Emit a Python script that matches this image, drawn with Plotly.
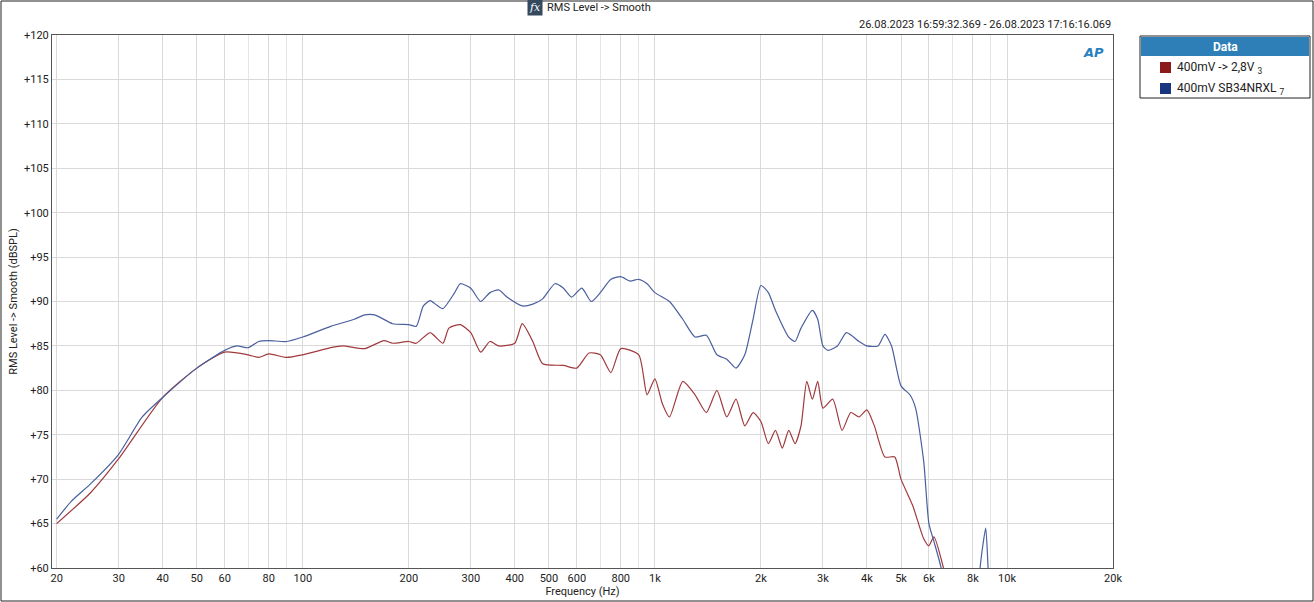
import plotly.graph_objects as go

# frequency response
blue_f = [20, 22, 25, 30, 35, 40, 50, 60, 65, 70, 75, 80, 90, 100, 120, 140, 150, 160, 180, 200, 210, 220,
          230, 240, 250, 270, 280, 300, 320, 340, 360, 380, 420, 450, 480, 520, 550, 580, 620, 660, 700, 750,
          800, 850, 900, 950, 1000, 1100, 1200, 1300, 1400, 1500, 1600, 1700, 1800, 1900, 2000, 2100, 2200,
          2400, 2500, 2600, 2800, 2900, 3000, 3100, 3300, 3500, 3800, 4000, 4300, 4500, 4700, 5000, 5300,
          5500, 5800, 6000, 6200, 6500, 7000, 8000, 8500, 8700, 8900, 9500]
blue_db = [65.5, 67.5, 69.5, 72.8, 77, 79.2, 82.5, 84.5, 85, 84.8, 85.5, 85.6, 85.5, 86, 87.2, 88, 88.5, 88.5,
           87.5, 87.4, 87.2, 89.5, 90.1, 89.6, 89.2, 91, 92, 91.5, 90, 91, 91.3, 90.5, 89.5, 89.7, 90.3, 92,
           91.5, 90.5, 91.5, 90, 91, 92.5, 92.8, 92.3, 92.5, 92, 91, 90, 88, 86, 86.2, 84, 83.5, 82.5, 84, 88,
           91.8, 91, 89, 86, 85.5, 87, 89, 88, 85, 84.5, 85, 86.5, 85.5, 85, 85, 86.3, 85, 80.5, 79.5, 78, 72,
           65, 63, 60, 52, 55, 62, 64.5, 58, 50]

red_f = [20, 25, 30, 40, 50, 60, 70, 75, 80, 90, 100, 120, 130, 150, 170, 180, 200, 210, 230, 250, 260, 280,
         300, 320, 340, 360, 400, 420, 450, 480, 550, 600, 650, 700, 750, 800, 900, 950, 1000, 1050, 1100,
         1200, 1300, 1400, 1500, 1600, 1700, 1800, 1900, 2000, 2100, 2200, 2300, 2400, 2500, 2600, 2700,
         2800, 2900, 3000, 3200, 3400, 3600, 3800, 4000, 4200, 4500, 4800, 5000, 5400, 5800, 6000, 6200,
         6600, 7000]
red_db = [65, 68.5, 72.3, 79.2, 82.5, 84.3, 84, 83.7, 84.1, 83.7, 84, 84.8, 85, 84.7, 85.6, 85.3, 85.5, 85.3,
          86.5, 85.3, 87, 87.4, 86.5, 84.3, 85.5, 85, 85.3, 87.5, 85.5, 83, 82.8, 82.5, 84.2, 84, 82, 84.7,
          84, 79.5, 81.3, 78.5, 77, 81, 79.5, 77.5, 80, 77, 79, 76, 77.5, 76.5, 74, 75.5, 73.5, 75.5, 74, 76,
          81, 79, 81, 78, 79, 75.5, 77.5, 77, 77.8, 76, 72.5, 72.5, 70, 67, 63.3, 62.5, 63.5, 60, 55]

x_ticks = [20, 30, 40, 50, 60, 80, 100, 200, 300, 400, 500, 600, 800, 1000, 2000, 3000, 4000, 5000, 6000,
           8000, 10000, 20000]
x_labels = ["20", "30", "40", "50", "60", "80", "100", "200", "300", "400", "500", "600", "800", "1k",
            "2k", "3k", "4k", "5k", "6k", "8k", "10k", "20k"]
x_minor = [70, 90, 700, 900, 7000, 9000]
y_ticks = list(range(60, 121, 5))
y_labels = ["+%d" % v for v in y_ticks]

names = ["400mV -> 2,8V", "400mV SB34NRXL"]
colors = ["#a03a3e", "#4a5f9e"]
swatch = ["#8b1a1a", "#1a3580"]

fig = go.Figure()
fig.add_trace(go.Scatter(x=red_f, y=red_db, mode="lines", line=dict(color=colors[0], width=1.2, shape="spline", smoothing=0.6), showlegend=False))
fig.add_trace(go.Scatter(x=blue_f, y=blue_db, mode="lines", line=dict(color=colors[1], width=1.2, shape="spline", smoothing=0.6), showlegend=False))

font = dict(family="Roboto", size=11, color="#222")

fig.update_layout(
    width=1314, height=602, margin=dict(l=52, r=201, t=35, b=34, autoexpand=False),
    paper_bgcolor="white", plot_bgcolor="white", font=font, showlegend=False,
    xaxis=dict(type="log", range=[1.2878, 4.301], tickvals=x_ticks, ticktext=x_labels,
               gridcolor="#d9d9d9", gridwidth=1, showline=True, linecolor="#555", mirror=True,
               ticks="", tickfont=font, automargin=False,
               minor=dict(tickvals=x_minor, showgrid=True, gridcolor="#e6e6e6"),
               title=dict(text="Frequency (Hz)", font=font, standoff=0)),
    yaxis=dict(range=[60, 120], tickvals=y_ticks, ticktext=y_labels, gridcolor="#d9d9d9", automargin=False,
               showline=True, linecolor="#555", mirror=True, ticks="", zeroline=False, tickfont=font,
               title=dict(text="RMS Level -> Smooth (dBSPL)", font=font, standoff=4)),
)

def px(x):
    return (x - 52) / 1061

def py(y):
    return (602 - 34 - y) / 533

def note(x, y, text, f, xanchor="left", **kw):
    fig.add_annotation(xref="paper", yref="paper", x=px(x), y=py(y), text=text, showarrow=False,
                       font=f, xanchor=xanchor, yanchor="middle", **kw)

# outer frame, title and timestamp
fig.add_shape(type="rect", xref="paper", yref="paper", x0=px(1), x1=px(1313), y0=py(1), y1=py(601),
              line=dict(color="#222", width=1))
note(527, 8, "<i>fx</i>", dict(family="DejaVu Serif", size=11, color="white"), bgcolor="#34495e")
note(545, 8, "RMS Level -> Smooth", font)
note(1113, 25, "26.08.2023 16:59:32.369 - 26.08.2023 17:16:16.069", font, xanchor="right")
note(1093, 52, "<b><i>AP</i></b>", dict(family="DejaVu Sans", size=13, color="#2a7fc0"), xanchor="center")

# legend box
fig.add_shape(type="rect", xref="paper", yref="paper", x0=px(1140), x1=px(1310), y0=py(36), y1=py(98),
              line=dict(color="#222", width=1), fillcolor="white")
fig.add_shape(type="rect", xref="paper", yref="paper", x0=px(1141), x1=px(1309), y0=py(37), y1=py(56),
              line=dict(width=0), fillcolor="#2e7fb8")
note(1225, 46.5, "<b>Data</b>", dict(family="Roboto", size=12, color="white"), xanchor="center")
for i, (name, c, num) in enumerate(zip(names, swatch, ["3", "7"])):
    yc = 68 + 21 * i
    fig.add_shape(type="rect", xref="paper", yref="paper", x0=px(1160), x1=px(1171), y0=py(yc - 6), y1=py(yc + 5),
                  line=dict(width=0), fillcolor=c)
    note(1175, yc, name + " <sub>" + num + "</sub>", dict(family="Roboto", size=12, color="#222"))

fig.write_html("out.html", config={"displayModeBar": False}, post_script="document.body.style.margin='0';")
